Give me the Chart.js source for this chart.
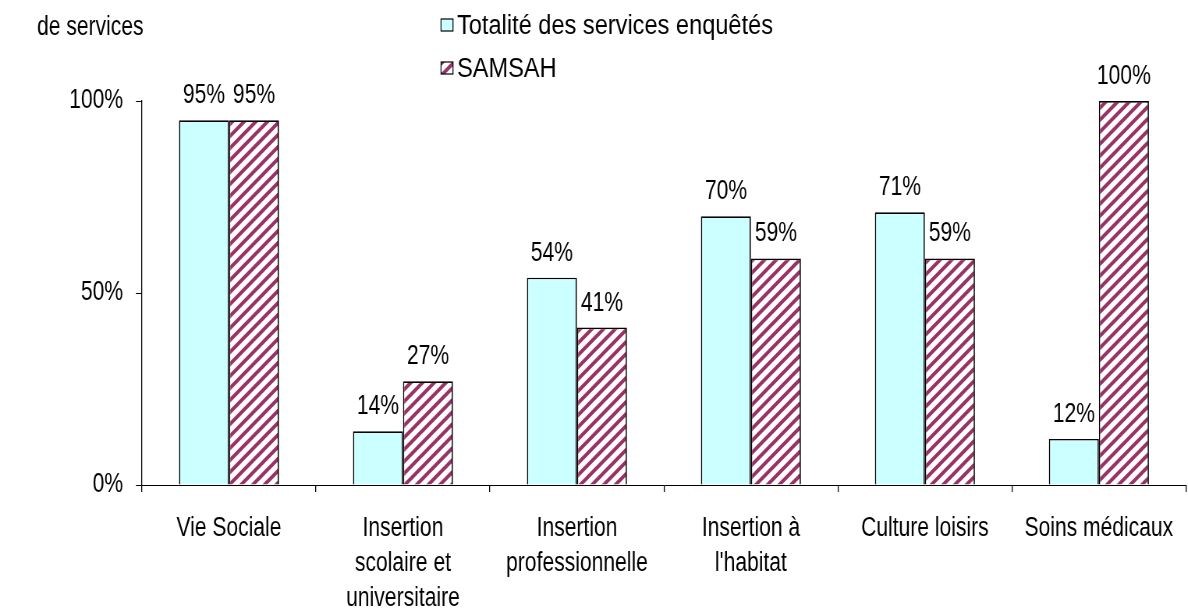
<!DOCTYPE html>
<html lang="fr">
<head>
<meta charset="UTF-8">
<title>Services</title>
<script src="https://cdn.jsdelivr.net/npm/chart.js"></script>
<style>
    html, body { margin: 0; background: #fff; overflow: hidden; }
    #wrap { height: 611px; position: relative; transform-origin: 0 0; }
</style>
</head>
<body>
<div id="wrap"><canvas id="chart"></canvas></div>
<script>
// données
const categories = ['Vie Sociale', ['Insertion', 'scolaire et', 'universitaire'], ['Insertion', 'professionnelle'], ['Insertion à', "l'habitat"], 'Culture loisirs', 'Soins médicaux'];
const totalite = [95, 14, 54, 70, 71, 12];
const samsah = [95, 27, 41, 59, 59, 100];
const seriesNames = ['Totalité des services enquêtés', 'SAMSAH'];
const yTicks = [0, 50, 100];

// le texte d'origine est étroit : on dessine plus large puis on compresse en x
const SX = 0.78;
const FONT = "'Liberation Sans', Arial, sans-serif";
const FSIZE = 27;
const wrap = document.getElementById('wrap');
wrap.style.width = (1188 / SX) + 'px';
wrap.style.transform = 'scaleX(' + SX + ')';

// motif hachuré pour SAMSAH
function makeHatch() {
    const c = document.createElement('canvas');
    c.width = 15; c.height = 12;
    const x = c.getContext('2d');
    x.fillStyle = '#fff';
    x.fillRect(0, 0, 15, 12);
    x.strokeStyle = '#993366';
    x.lineWidth = 4;
    x.beginPath();
    x.moveTo(-7.5, 6); x.lineTo(7.5, -6);
    x.moveTo(0, 12); x.lineTo(15, 0);
    x.moveTo(7.5, 18); x.lineTo(22.5, 6);
    x.stroke();
    return x.createPattern(c, 'repeat');
}

const ctx = document.getElementById('chart').getContext('2d');
const hatch = makeHatch();

// étiquettes, légende et titre
const extras = {
    id: 'extras',
    afterDatasetsDraw(chart) {
        const c = chart.ctx;
        c.save();
        c.font = FSIZE + 'px ' + FONT;
        c.fillStyle = '#000';
        c.textAlign = 'center';
        c.textBaseline = 'alphabetic';
        chart.data.datasets.forEach((ds, i) => {
            chart.getDatasetMeta(i).data.forEach((bar, j) => {
                c.fillText(ds.data[j] + '%', bar.x, bar.y - 17);
            });
        });
        // titre (coupé en haut)
        c.textAlign = 'left';
        c.textBaseline = 'middle';
        c.fillText('de services', 37 / SX, 28);
        // légende
        const rows = [25, 68];
        const fills = ['#CCFFFF', hatch];
        rows.forEach((y, i) => {
            const bx = 441 / SX, bw = 12 / SX;
            c.fillStyle = fills[i];
            c.fillRect(bx, y - 6, bw, 12);
            c.strokeStyle = '#000';
            c.lineWidth = 1.2;
            c.strokeRect(bx, y - 6, bw, 12);
            c.fillStyle = '#000';
            c.save();
            c.translate(457 / SX, y + 1);
            c.scale(1.12, 1.03);
            c.fillText(seriesNames[i], 0, 0);
            c.restore();
        });
        c.restore();
    }
};

new Chart(ctx, {
    type: 'bar',
    data: {
        labels: categories,
        datasets: [{
            label: seriesNames[0],
            data: totalite,
            backgroundColor: '#CCFFFF',
            borderColor: '#000',
            borderWidth: 1.7
        }, {
            label: seriesNames[1],
            data: samsah,
            backgroundColor: hatch,
            borderColor: '#000',
            borderWidth: 1.7
        }]
    },
    options: {
        responsive: true,
        maintainAspectRatio: false,
        animation: false,
        layout: { padding: { top: 101, left: 0, right: 0, bottom: 0 } },
        datasets: { bar: { barPercentage: 1, categoryPercentage: 0.575 } },
        plugins: {
            legend: { display: false },
            tooltip: { enabled: false }
        },
        scales: {
            x: {
                grid: { drawOnChartArea: false, drawTicks: true, tickLength: 7, color: '#000', offset: true, lineWidth: 1.3 },
                border: { color: '#000', width: 1 },
                ticks: { color: '#000', font: { family: FONT, size: FSIZE, lineHeight: 1.3 }, padding: 19, maxRotation: 0, autoSkip: false },
                afterFit(s) { s.height = 126; }
            },
            y: {
                min: 0, max: 100,
                afterBuildTicks(s) { s.ticks = yTicks.map(v => ({ value: v })); },
                grid: { drawOnChartArea: false, drawTicks: true, tickLength: 6 / SX, color: '#000' },
                border: { color: '#000', width: 1.3 },
                ticks: { color: '#000', font: { family: FONT, size: FSIZE }, padding: 13 / SX, callback: v => v + '%' },
                afterFit(s) { s.width = 142 / SX; }
            }
        }
    },
    plugins: [extras]
});
</script>
</body>
</html>
